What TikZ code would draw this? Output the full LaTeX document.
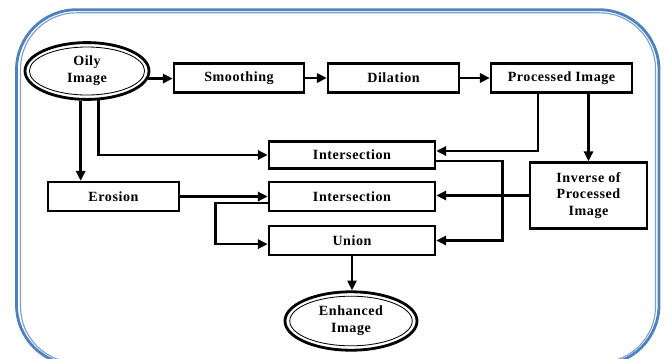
\documentclass[tikz,border=0pt]{standalone}
\usepackage{fontspec}
\setmainfont{Liberation Serif}[LetterSpace=4]
\usetikzlibrary{shapes.geometric,arrows.meta}
\definecolor{frameblue}{RGB}{79,129,189}
\definecolor{framelight}{RGB}{120,160,210}

\begin{document}
\begin{tikzpicture}[x=0.025cm,y=-0.025cm,
    box/.style={draw,line width=1.8pt,minimum height=0.72cm,inner sep=1pt,font=\bfseries},
    oval/.style={ellipse,draw,line width=2pt,inner sep=0pt,font=\bfseries,align=center},
    arr/.style={line width=1.9pt,-{Triangle[length=7pt,width=6.5pt]}}]
\useasboundingbox (0,0) rectangle (672,358);
\draw[frameblue,line width=2pt,rounded corners=1.5cm] (16.5,9.7) rectangle (659,365);
\draw[framelight,line width=0.8pt,rounded corners=1.4cm] (20.5,12.8) rectangle (655.5,362.5);

\node[oval,minimum width=3.1cm,minimum height=1.42cm] (oily) at (87,71) {Oily\\Image};
\draw[line width=0.6pt] (oily.center) ellipse [x radius=1.44cm,y radius=0.6cm];
\node[box,minimum width=3.25cm] (smooth) at (239,78) {Smoothing};
\node[box,minimum width=3.27cm] (dil) at (393.5,78) {Dilation};
\node[box,minimum width=3.52cm] (proc) at (561.5,78) {Processed Image};
\node[box,minimum width=4.15cm,minimum height=0.68cm] (inter1) at (352,155) {Intersection};
\node[box,minimum width=3.27cm] (eros) at (113.5,196.5) {Erosion};
\node[box,minimum width=4.15cm] (inter2) at (352,196.5) {Intersection};
\node[box,minimum width=4.15cm] (union) at (352,240.5) {Union};
\node[box,minimum width=2.92cm,minimum height=1.65cm,align=center] (inv) at (588.5,195.5) {Inverse of\\Processed\\Image};
\node[oval,minimum width=3.3cm,minimum height=1.46cm] (enh) at (351,321) {Enhanced\\Image};
\draw[line width=0.6pt] (enh.center) ellipse [x radius=1.53cm,y radius=0.62cm];

\draw[arr] (oily.-7) -- (oily.-7 -| smooth.west);
\draw[arr] (smooth) -- (dil);
\draw[arr] (dil) -- (proc);
\draw[arr] (oily.258) -- (oily.258 |- eros.north);
\draw[arr] (oily.291) |- (inter1.west);
\draw[arr] ([xshift=-0.59cm]proc.south) |- ([yshift=0.1cm]inter1.east);
\draw[arr] (proc.south -| inv.north) -- (inv.north);
\draw[arr] ([yshift=-0.15cm]inter1.east) -- ++(66,0) |- (union.east);
\draw[arr] (inv.west) -- (inv.west -| inter2.east);
\draw[arr] (eros) -- (inter2);
\draw[arr] ([yshift=-0.16cm]inter2.west) -- ++(-52,0) |- ([yshift=-0.09cm]union.west);
\draw[arr] (union.south) -- (union.south |- enh.north);
\end{tikzpicture}
\end{document}
